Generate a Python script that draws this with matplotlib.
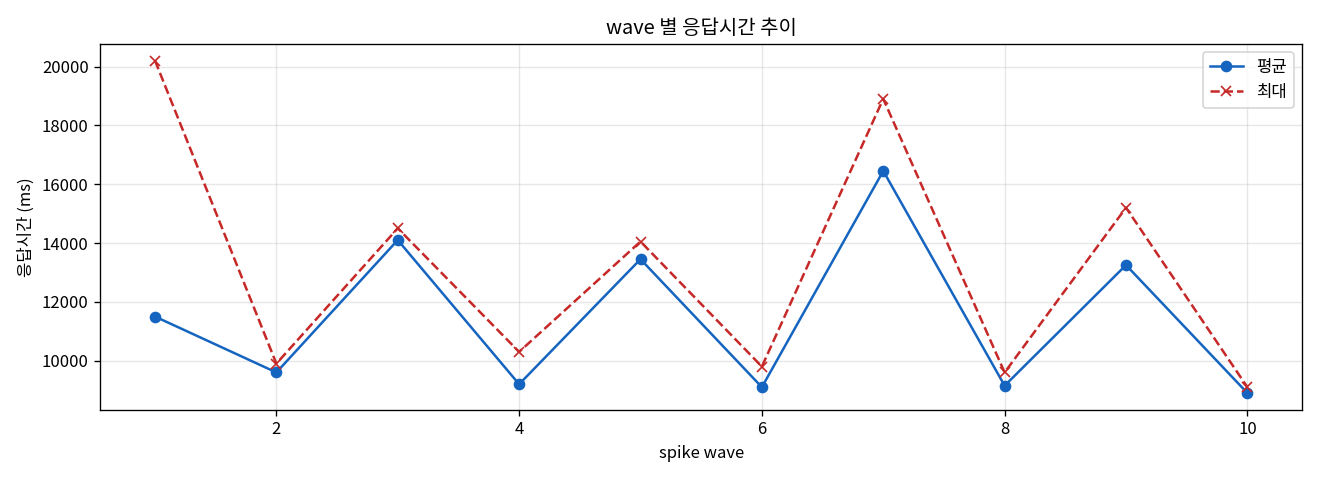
import matplotlib
matplotlib.use("Agg")
from matplotlib import pyplot as plt

plt.rcParams['font.family'] = ['Noto Sans CJK KR', 'DejaVu Sans']

waves = [1, 2, 3, 4, 5, 6, 7, 8, 9, 10]
avg_ms = [11500, 9600, 14100, 9200, 13450, 9100, 16450, 9150, 13250, 8900]
max_ms = [20200, 9900, 14500, 10300, 14050, 9800, 18900, 9600, 15200, 9100]

fig, ax = plt.subplots(figsize=(11, 4), dpi=120)
ax.plot(waves, avg_ms, marker='o', color='#1565c0', label='평균')
ax.plot(waves, max_ms, marker='x', linestyle='--', color='#c62828', label='최대')
ax.set_title('wave 별 응답시간 추이')
ax.set_xlabel('spike wave')
ax.set_ylabel('응답시간 (ms)')
ax.grid(True, alpha=0.3)
ax.legend(loc='upper right')
fig.tight_layout()
fig.savefig('out.png')
